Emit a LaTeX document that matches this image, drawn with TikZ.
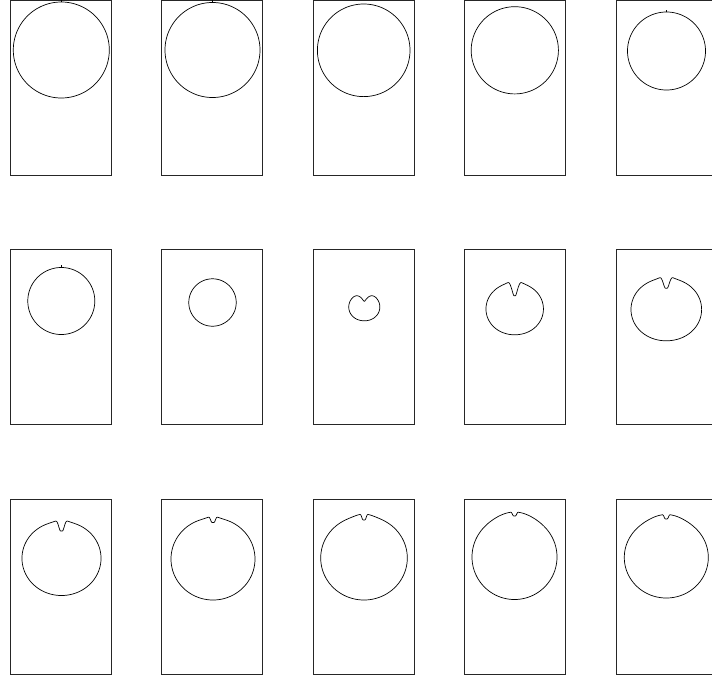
\documentclass[tikz,border=0pt]{standalone}
\usepackage{tikz}

\tikzset{
  panel/.style={draw, line width=0.7pt, black!85},
  contour/.style={draw, line width=0.7pt, black},
  tick/.style={draw, line width=0.6pt, black}
}

\begin{document}
\begin{tikzpicture}[x=1pt, y=-1pt]
    \useasboundingbox (0,0) rectangle (712,675);

    % frames, 5 columns by 3 rows
    \foreach \i in {0,...,4}
      \foreach \j in {0,1,2}
        \draw[panel] ({10+151.5*\i},{0.4+249.25*\j}) rectangle ++(101,175);

    % drops: cx/cy/R/egg/wide/peak/peakwidth/notch/notchwidth
    \foreach \cx/\cy/\R/\a/\c/\b/\g/\d/\w in {
        61.3/50/48/0/0/0/30/0/5,
        212.5/50/47.5/0/0/0/30/0/5,
        363.7/50.3/46.3/0/0/0/30/0/5,
        514.8/50.3/43.6/0/0/0/30/0/5,
        666.5/51/39/0/0/0/30/0/5,
        61.3/301/33.5/0/0/0/30/0/5,
        212.5/302.5/23.7/0/0/0/30/0/5,
        364.3/308/14/1.2/1.5/-8.5/22/0/5,
        514.7/310/26/1.2/2.7/2/16/15/9,
        666.3/309.5/31.3/0/4/2/14/12/7.5,
        61.5/557/37/-1.5/2.5/1.5/12/11/6,
        213/559/41/0/1/1.5/10/6/4,
        364/558/42/0/1.3/2/14/6/3.5,
        514.5/557/42.5/0/0/2.5/25/4/3.2,
        666.3/557/40.5/-0.5/1.5/2.5/25/4.5/3.5}
      \draw[contour, shift={(\cx,\cy)}]
        plot[domain=0:360, samples=721]
          ({-\x}:{\R + \a*sin(\x) + \c*cos(\x)^2
                  + \b*exp(-min(((\x-90)/\g)^2,20))
                  - \d*exp(-min(abs((\x-90)/\w),2.1)^4)}) -- cycle;

    % small marks on top of some circles
    \foreach \cx/\cy/\R in {61.3/50/48, 212.5/50/47.5, 666.5/51/39, 61.3/301/33.5}
      \draw[tick] (\cx,{\cy-\R}) -- ++(0,-2.5);
\end{tikzpicture}
\end{document}
